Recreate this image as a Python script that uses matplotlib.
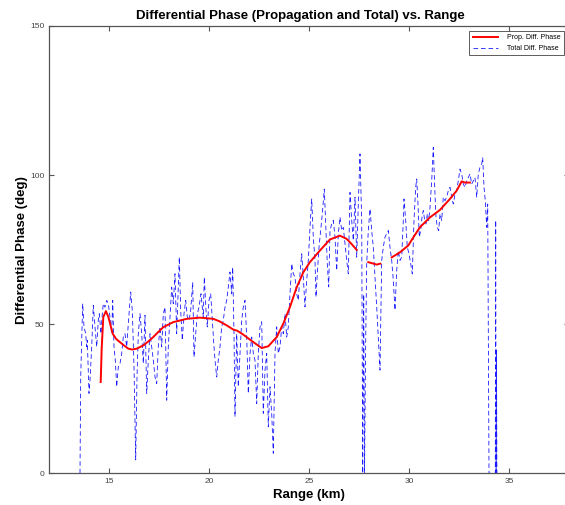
import numpy as np
import matplotlib
matplotlib.use("Agg")
import matplotlib.pyplot as plt

plt.rcParams['font.family'] = ['Liberation Sans', 'DejaVu Sans']

# ---- data ----
total_range_km = [
    13.535, 13.57, 13.67, 13.735, 13.82, 13.87, 13.9, 13.985, 14.035, 14.12, 14.2, 14.285, 14.37, 14.45,
    14.5, 14.585, 14.65, 14.7, 14.785, 14.87, 14.95, 15.035, 15.12, 15.17, 15.235, 15.3, 15.37, 15.45,
    15.535, 15.62, 15.7, 15.785, 15.87, 15.95, 16.07, 16.15, 16.235, 16.32, 16.385, 16.45, 16.535, 16.62,
    16.7, 16.785, 16.87, 16.95, 17.035, 17.12, 17.2, 17.285, 17.37, 17.45, 17.535, 17.62, 17.7, 17.785,
    17.87, 17.95, 18.035, 18.12, 18.2, 18.285, 18.37, 18.45, 18.5, 18.57, 18.65, 18.735, 18.82, 18.9,
    18.985, 19.07, 19.17, 19.235, 19.32, 19.4, 19.485, 19.585, 19.7, 19.75, 19.835, 19.9, 19.985, 20.07,
    20.15, 20.235, 20.3, 20.37, 20.45, 20.535, 20.62, 20.7, 20.785, 20.87, 20.95, 21.035, 21.12, 21.17,
    21.235, 21.285, 21.37, 21.45, 21.535, 21.62, 21.7, 21.785, 21.87, 21.95, 22.035, 22.12, 22.2, 22.285,
    22.37, 22.45, 22.535, 22.62, 22.7, 22.785, 22.87, 22.95, 23.035, 23.12, 23.2, 23.285, 23.37, 23.45,
    23.535, 23.62, 23.7, 23.785, 23.87, 23.95, 24.035, 24.12, 24.2, 24.285, 24.37, 24.45, 24.535, 24.62,
    24.7, 24.785, 24.87, 24.95, 25.035, 25.12, 25.2, 25.285, 25.335, 25.4, 25.485, 25.57, 25.65, 25.75,
    25.835, 25.9, 25.97, 26.035, 26.12, 26.2, 26.285, 26.37, 26.45, 26.535, 26.62, 26.7, 26.785, 26.87,
    26.95, 27.035, 27.12, 27.2, 27.285, 27.37, 27.45, 27.535, 27.62, 27.67, 27.72, 27.76, 27.82, 27.87,
    27.95, 28.035, 28.12, 28.2, 28.285, 28.37, 28.45, 28.535, 28.62, 28.7, 28.785, 28.87, 28.95, 29.035,
    29.12, 29.2, 29.285, 29.37, 29.45, 29.535, 29.62, 29.7, 29.735, 29.82, 29.9, 29.985, 30.07, 30.15,
    30.235, 30.32, 30.37, 30.435, 30.5, 30.57, 30.635, 30.7, 30.77, 30.835, 30.9, 30.97, 31.035, 31.12,
    31.2, 31.27, 31.335, 31.4, 31.47, 31.535, 31.62, 31.7, 31.785, 31.87, 31.95, 32.035, 32.12, 32.2,
    32.285, 32.37, 32.45, 32.535, 32.62, 32.7, 32.785, 32.87, 32.95, 33.035, 33.12, 33.2, 33.285, 33.37,
    33.45, 33.535, 33.62, 33.67, 33.735, 33.8, 33.87, 33.92, 33.985, 34.3, 34.32, 34.34, 34.36, 34.38,
]
total_phase_deg = [
    0.0, 32.3, 56.9, 49.1, 46.8, 42.4, 44.6, 26.8, 31.2, 42.4, 56.3, 49.1, 42.4, 51.3,
    53.5, 46.8, 53.5, 56.9, 55.7, 58.0, 56.9, 52.4, 46.8, 58.0, 42.4, 37.9, 29.0, 35.7,
    36.8, 40.1, 45.7, 46.8, 42.4, 50.2, 60.8, 54.6, 35.7, 4.5, 32.3, 46.8, 53.5, 46.8,
    36.8, 53.0, 26.8, 37.9, 46.8, 42.4, 37.9, 32.3, 30.1, 42.4, 49.1, 42.4, 53.5, 55.7,
    24.5, 42.4, 52.4, 62.4, 56.9, 66.9, 46.8, 62.4, 72.5, 54.6, 44.6, 53.5, 58.0, 52.4,
    51.3, 54.6, 64.1, 39.0, 46.8, 53.5, 55.7, 60.2, 52.4, 65.8, 54.6, 49.1, 58.0, 60.2,
    51.3, 42.4, 36.8, 32.3, 37.9, 42.4, 49.1, 51.3, 55.7, 58.0, 62.4, 67.5, 60.2, 69.1,
    46.8, 19.0, 46.8, 29.0, 40.2, 51.3, 55.8, 58.0, 45.7, 26.8, 40.2, 45.7, 40.2, 37.9,
    23.4, 40.2, 49.1, 50.8, 20.1, 34.6, 40.2, 15.6, 29.0, 20.1, 6.7, 40.2, 49.1, 40.2,
    42.4, 49.1, 46.8, 53.5, 45.7, 49.1, 60.2, 70.3, 66.9, 65.8, 60.2, 58.0, 66.9, 73.6,
    65.8, 55.8, 64.7, 71.4, 82.5, 92.0, 79.2, 71.4, 59.1, 66.9, 75.8, 81.4, 87.0, 95.3,
    81.4, 70.3, 62.5, 81.4, 83.6, 84.8, 79.2, 68.0, 80.3, 85.9, 81.4, 82.5, 76.9, 71.4,
    66.9, 94.2, 84.8, 78.1, 92.6, 72.5, 90.3, 107.1, 84.8, 0.0, 60.0, 0.0, 45.0, 70.3,
    81.4, 88.7, 81.4, 75.8, 65.8, 55.8, 45.7, 34.6, 71.4, 75.8, 79.2, 80.3, 81.4, 75.8,
    71.4, 64.7, 54.7, 68.0, 74.7, 71.4, 72.5, 84.8, 92.0, 84.8, 75.8, 73.6, 70.3, 66.9,
    84.8, 95.9, 98.7, 90.3, 79.2, 81.4, 85.9, 88.1, 84.8, 83.6, 87.0, 84.8, 89.2, 98.1,
    109.3, 95.9, 85.9, 82.5, 81.4, 87.0, 84.8, 92.6, 91.4, 92.6, 94.8, 95.9, 92.6, 90.3,
    93.7, 94.8, 98.1, 102.0, 100.4, 97.0, 95.9, 98.1, 99.2, 100.4, 97.0, 98.1, 99.2, 92.6,
    100.4, 102.6, 103.7, 105.9, 95.9, 91.4, 82.5, 90.3, 0.0, 0.0, 84.8, 0.0, 41.3, 0.0,
]

prop_range_km = [
    14.57, 14.62, 14.7, 14.83, 14.95, 15.04, 15.17, 15.35, 15.53, 15.75, 15.95, 16.15, 16.37, 16.7,
    16.95, 17.2, 17.45, 17.7, 18.2, 18.87, 19.53, 20.2, 20.5, 20.87, 21.2, 21.4, 21.7, 22.2, 22.62,
    22.95, 23.37, 23.7, 24.03, 24.37, 24.7, 25.03, 25.53, 26.03, 26.53, 26.87, 27.1, 27.37, 27.6,
    27.95, 28.37, 28.55, 28.9, 29.12, 29.53, 29.95, 30.2, 30.53, 31.03, 31.53, 32.03, 32.37, 32.62,
    32.78, 33.03,
]
prop_phase_deg = [
    30.6, 42.0, 52.4, 54.4, 52.5, 50.2, 46.8, 45.0, 44.0, 42.8, 41.8, 41.5, 41.8, 42.9,
    44.2, 45.7, 47.4, 49.0, 50.7, 51.8, 52.2, 51.8, 51.0, 49.6, 48.2, 47.8, 46.5, 44.0, 42.0,
    42.6, 45.7, 50.2, 55.7, 62.4, 67.4, 70.8, 74.7, 78.4, 79.7, 78.6, 77.0, 74.9, np.nan,
    70.8, 70.0, 70.3, np.nan, 72.4, 74.1, 76.4, 79.1, 82.5, 85.8, 88.3, 92.0, 94.8, 97.9,
    97.5, 97.5,
]

x_ticks = [15, 20, 25, 30, 35]
y_ticks = [0, 50, 100, 150]

# ---- figure ----
W, H = 565, 505
fig = plt.figure(figsize=(W / 100, H / 100), dpi=100)
ax_left, ax_right, ax_top, ax_bottom = 49.3, 569.3, 26.0, 473.3
ax = fig.add_axes([ax_left / W, 1 - ax_bottom / H, (ax_right - ax_left) / W, (ax_bottom - ax_top) / H])

ax.plot(prop_range_km, prop_phase_deg, color='red', lw=1.4, label='Prop. Diff. Phase', zorder=3)
ax.plot(total_range_km, total_phase_deg, color='#1a1aff', lw=0.6, dashes=(5.5, 3.5),
        label='Total Diff. Phase', zorder=2)

ax.set_xlim(12, 38)
ax.set_ylim(0, 150)
ax.set_xticks(x_ticks)
ax.set_yticks(y_ticks)

spine_col = '#555555'
for s in ax.spines.values():
    s.set_color(spine_col)
    s.set_linewidth(0.9)
ax.tick_params(direction='in', length=3.5, width=0.8, color=spine_col, labelsize=6,
               labelcolor='#444444', top=True, right=True, pad=3.5)

ax.set_title('Differential Phase (Propagation and Total) vs. Range',
             fontsize=9.5, fontweight='bold', pad=5, x=0.482)
ax.set_xlabel('Range (km)', fontsize=9.5, fontweight='bold')
ax.set_ylabel('Differential Phase (deg)', fontsize=9.5, fontweight='bold')
ax.xaxis.set_label_coords(0.5, -0.036)
ax.yaxis.set_label_coords(-0.040, 0.5)

leg = ax.legend(loc='upper right', bbox_to_anchor=(564 / W, 1 - 31 / H),
                bbox_transform=fig.transFigure, borderaxespad=0, fontsize=5,
                frameon=True, fancybox=False, handlelength=3.6, handletextpad=1.3,
                borderpad=0.5, labelspacing=0.5)
leg.get_frame().set_edgecolor('#333333')
leg.get_frame().set_linewidth(0.7)

fig.savefig('out.png', dpi=100)
